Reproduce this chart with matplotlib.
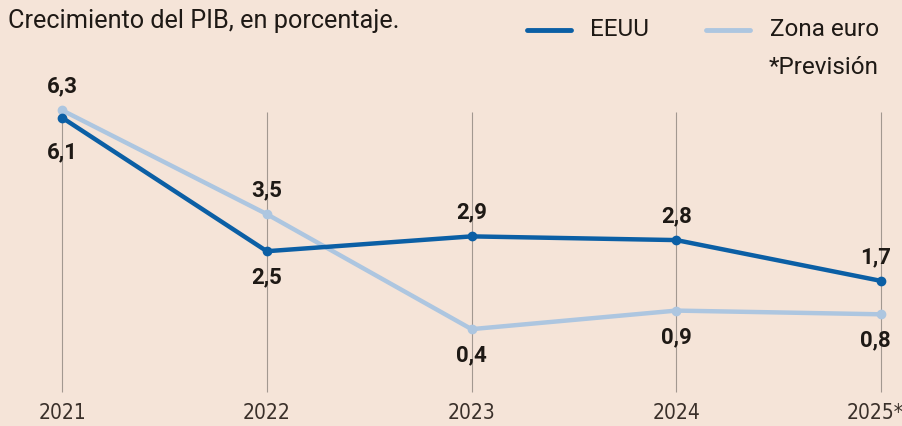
import matplotlib.pyplot as plt

years = ['2021', '2022', '2023', '2024', '2025*']
eeuu = [6.1, 2.5, 2.9, 2.8, 1.7]
zona_euro = [6.3, 3.5, 0.4, 0.9, 0.8]
# label placement: +1 above the point, -1 below
eeuu_pos = [-1, -1, 1, 1, 1]
euro_pos = [1, 1, -1, -1, -1]

bg = '#f5e4d8'
dark = '#0b5fa5'
light = '#adc6e0'
ink = '#1e1915'

plt.rcParams['font.family'] = ['Roboto', 'DejaVu Sans']

fig = plt.figure(figsize=(9.03, 4.26), dpi=100, facecolor=bg)
ax = fig.add_axes([0, 0, 1, 1])
ax.set_facecolor(bg)
ax.set_xlim(-0.303, 4.107)
ax.set_ylim(-2.21, 9.27)
ax.axis('off')

x = list(range(len(years)))
ax.vlines(x, -1.29, 6.25, color='#a29890', lw=0.8, zorder=1)

ax.plot(x, zona_euro, color=light, lw=3.2, marker='o', ms=6, zorder=2,
        solid_capstyle='round')
ax.plot(x, eeuu, color=dark, lw=3.2, marker='o', ms=6, zorder=3,
        solid_capstyle='round')

for vals, other, pos in ((eeuu, zona_euro, eeuu_pos),
                         (zona_euro, eeuu, euro_pos)):
    for i, (v, p) in enumerate(zip(vals, pos)):
        dy = 17 if p > 0 else -19
        if p < 0 and abs(v - other[i]) < 0.5:
            dy = -25   # keep clear of the other line
        dx = -4 if i == len(vals) - 1 else 0
        ax.annotate(f'{v:.1f}'.replace('.', ','), (i, v), xytext=(dx, dy),
                    textcoords='offset points', ha='center', va='center',
                    fontsize=16, fontweight='bold', color=ink)

for i, yr in enumerate(years):
    dx = -4 if i == len(years) - 1 else 0
    ax.annotate(yr, (i, -1.86), xytext=(dx, 0), textcoords='offset points',
                ha='center', va='center', fontsize=15,
                family='DejaVu Sans', stretch='condensed', color='#3a302a')

fig.text(8 / 903, 1 - 21 / 426, 'Crecimiento del PIB, en porcentaje.',
         ha='left', va='center', fontsize=18.2, color=ink)

# legend
fig.add_artist(plt.Line2D([527 / 903, 571 / 903], [1 - 30 / 426] * 2,
                          color=dark, lw=3.5, solid_capstyle='round'))
fig.add_artist(plt.Line2D([706 / 903, 750 / 903], [1 - 30 / 426] * 2,
                          color=light, lw=3.5, solid_capstyle='round'))
fig.text(590 / 903, 1 - 29 / 426, 'EEUU', ha='left', va='center',
         fontsize=17.5, color=ink)
fig.text(770 / 903, 1 - 29 / 426, 'Zona euro', ha='left', va='center',
         fontsize=17.5, color=ink)
fig.text(879 / 903, 1 - 67 / 426, '*Previsión', ha='right', va='center',
         fontsize=17.5, color=ink)

fig.savefig('out.png', dpi=100, facecolor=bg)
